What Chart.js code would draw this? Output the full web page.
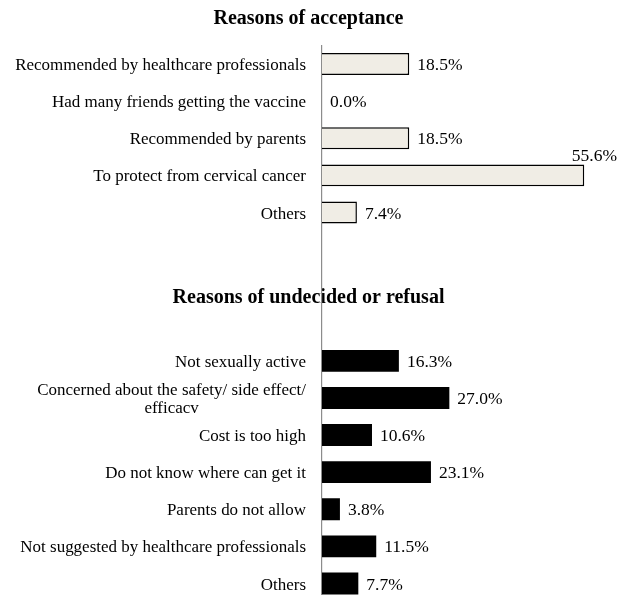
<!DOCTYPE html>
<html>
<head>
<meta charset="utf-8">
<title>Reasons of acceptance / refusal</title>
<script src="https://cdn.jsdelivr.net/npm/chart.js@4.4.1/dist/chart.umd.min.js"></script>
<style>
    html, body { margin: 0; padding: 0; background: #fff; overflow: hidden; }
    #wrap { width: 627px; height: 602px; }
</style>
</head>
<body>
<div id="wrap"><canvas id="reasonsChart"></canvas></div>
<script>
// Data
const acceptanceTitle = 'Reasons of acceptance';
const refusalTitle = 'Reasons of undecided or refusal';

const acceptanceLabels = [
    'Recommended by healthcare professionals',
    'Had many friends getting the vaccine',
    'Recommended by parents',
    'To protect from cervical cancer',
    'Others'
];
const acceptanceValues = [18.5, 0.0, 18.5, 55.6, 7.4];

const refusalLabels = [
    'Not sexually active',
    ['Concerned about the safety/ side effect/', 'efficacv'],
    'Cost is too high',
    'Do not know where can get it',
    'Parents do not allow',
    'Not suggested by healthcare professionals',
    'Others'
];
const refusalValues = [16.3, 27.0, 10.6, 23.1, 3.8, 11.5, 7.7];

const gapRows = 3; // empty rows between the two groups

const serif = '"Liberation Serif", "Times New Roman", serif';
const labelFontSize = 17.5;
const labelSquash = 0.97; // reference text is a touch narrower
const titleFontSize = 20;
const lineHeight = 18;

// Build the combined category list for one chart
const gapLabels = Array(gapRows).fill('');
const allLabels = [...acceptanceLabels, ...gapLabels, ...refusalLabels];
const allValues = [...acceptanceValues, ...Array(gapRows).fill(null), ...refusalValues];
const isAcceptance = allLabels.map((_, i) => i < acceptanceLabels.length);

const pctText = v => v.toFixed(1) + '%';

// Category labels (centered multi-line blocks, right edge next to the axis)
const categoryLabelPlugin = {
    id: 'categoryLabels',
    afterDraw(chart) {
        const { ctx, chartArea, scales: { y } } = chart;
        ctx.save();
        ctx.font = `${labelFontSize}px ${serif}`;
        ctx.fillStyle = '#000';
        ctx.textAlign = 'center';
        ctx.textBaseline = 'middle';
        ctx.translate(chartArea.left - 16, 0);
        ctx.scale(labelSquash, 1);
        chart.data.labels.forEach((label, i) => {
            const lines = Array.isArray(label) ? label : [label];
            if (!lines[0]) return;
            const blockWidth = Math.max(...lines.map(l => ctx.measureText(l).width));
            const top = y.getPixelForValue(i) - (lines.length - 1) * lineHeight / 2;
            lines.forEach((l, j) => ctx.fillText(l, -blockWidth / 2, top + j * lineHeight + 1.5));
        });
        ctx.restore();
    }
};

// Percent labels after each bar; moved above the bar when it would run off the canvas
const valueLabelPlugin = {
    id: 'valueLabels',
    afterDatasetsDraw(chart) {
        const { ctx, width } = chart;
        const meta = chart.getDatasetMeta(0);
        ctx.save();
        ctx.font = `${labelFontSize}px ${serif}`;
        ctx.fillStyle = '#000';
        ctx.textAlign = 'left';
        meta.data.forEach((bar, i) => {
            const v = allValues[i];
            if (v === null) return;
            const { x, y, height } = bar.getProps(['x', 'y', 'height'], true);
            const text = pctText(v);
            const w = ctx.measureText(text).width;
            let tx = x + 8;
            if (tx + w > width - 10) {
                tx = width - 10 - w;
                ctx.textBaseline = 'bottom';
                ctx.fillText(text, tx, y - height / 2 + 1);
            } else {
                ctx.textBaseline = 'middle';
                ctx.fillText(text, tx, y + 1.5);
            }
        });
        ctx.restore();
    }
};

// Group titles, drawn before the axis so the axis line runs over them
const groupTitlePlugin = {
    id: 'groupTitles',
    beforeDraw(chart) {
        const { ctx, width, scales: { y } } = chart;
        ctx.save();
        ctx.fillStyle = '#fff';
        ctx.fillRect(0, 0, width, chart.height);
        ctx.font = `bold ${titleFontSize}px ${serif}`;
        ctx.fillStyle = '#000';
        ctx.textAlign = 'center';
        ctx.textBaseline = 'middle';
        const cx = width / 2 - 5;
        ctx.fillText(acceptanceTitle, cx, 19);
        const gapStart = acceptanceLabels.length;
        const yGap = (y.getPixelForValue(gapStart + 1) + y.getPixelForValue(gapStart + 2)) / 2 - 7;
        ctx.fillText(refusalTitle, cx, yGap);
        ctx.restore();
    }
};

const ctx = document.getElementById('reasonsChart').getContext('2d');
new Chart(ctx, {
    type: 'bar',
    data: {
        labels: allLabels,
        datasets: [{
            data: allValues,
            backgroundColor: isAcceptance.map(a => a ? '#f0ede5' : '#000000'),
            borderColor: '#000000',
            borderWidth: c => (isAcceptance[c.dataIndex] && c.raw) ? 1.5 : 0,
            barPercentage: 0.59,
            categoryPercentage: 1.0
        }]
    },
    options: {
        indexAxis: 'y',
        responsive: true,
        maintainAspectRatio: false,
        animation: false,
        layout: { padding: { top: 45.5, right: 22, bottom: 0, left: 0 } },
        plugins: {
            legend: { display: false },
            tooltip: { enabled: false },
            title: { display: false }
        },
        scales: {
            x: { display: false, min: 0, max: 60 },
            y: {
                grid: { display: false },
                border: { display: true, color: '#8c8c8c', width: 1.2 },
                ticks: { display: false },
                afterFit(scale) { scale.width = 322; }
            }
        }
    },
    plugins: [groupTitlePlugin, categoryLabelPlugin, valueLabelPlugin]
});
</script>
</body>
</html>
